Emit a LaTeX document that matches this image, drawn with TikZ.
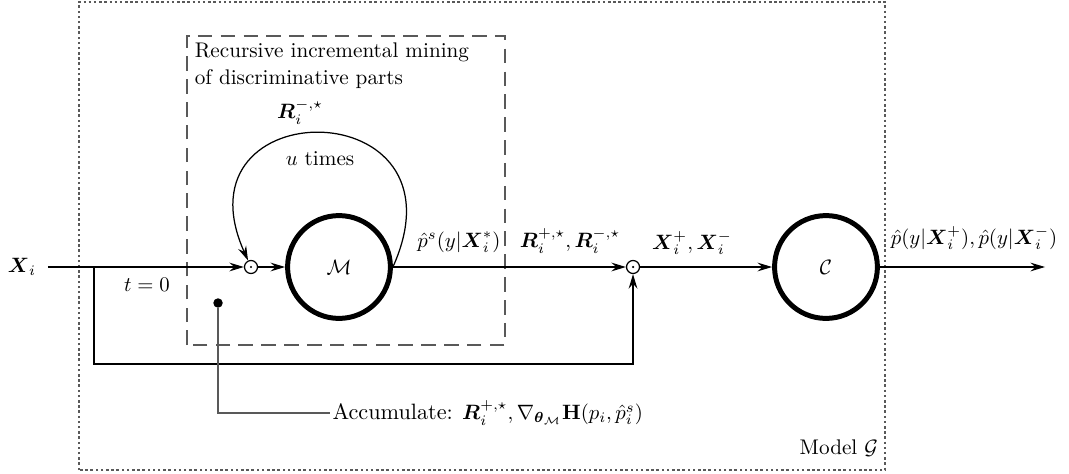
\documentclass[tikz,border=0pt]{standalone}
\usepackage{amsmath, amssymb}
\usetikzlibrary{arrows.meta,positioning}
\tikzstyle{prod} = [circle, draw, semithick, inner sep=0pt, minimum size=0.22cm, path picture={\fill (path picture bounding box.center) circle (0.6pt);}]
\tikzstyle{model} = [circle, draw, line width=2.4pt, minimum size=1.74cm]
\tikzstyle{arrow} = [semithick,->,>={Stealth[length=7pt,width=4.2pt,inset=2.4pt]}]
\tikzstyle{frame} = [gray!70!black, semithick]
\tikzstyle{note} = [font=\fontsize{10.2}{12.8}\selectfont]

\begin{document}
\begin{tikzpicture}
\useasboundingbox (0,-3.486) rectangle (18.088,4.518);

% outer model box and mining box
\draw [frame, dash pattern=on 1.2pt off 1.3pt] (1.337,-3.435) rectangle (14.975,4.484);
\draw [frame, dash pattern=on 7pt off 4pt] (3.164,-1.320) rectangle (8.545,3.909);
\node [note, anchor=north west, align=left, inner sep=2pt] at (3.22,3.87) {Recursive incremental mining\\of discriminative parts};
\node [note, anchor=south east] at (14.98,-3.33) {Model $\mathcal{G}$};

% main chain
\node (xlab) at (0.37,0) {$\boldsymbol{X}_i$};
\coordinate (xin) at (0.812,0);
\node (prod1) [prod] at (4.247,0) {};
\node (mine) [model] at (5.736,0) {$\mathcal{M}$};
\node (prod2) [prod] at (10.711,0) {};
\node (clf) [model] at (13.976,0) {$\mathcal{C}$};
\coordinate (out) at (17.682,0);
\draw [arrow] (xin) -- (prod1);
\draw [arrow] (prod1) -- (mine);
\draw [arrow] (mine) -- (prod2);
\draw [arrow] (prod2) -- (clf);
\draw [arrow] (clf) -- (out);

% recursion loop
\draw [arrow] (mine.east) .. controls +(1.35,3.0) and +(-1.35,3.0) .. (prod1);
\node (rneg) at (5.076,2.623) {$\boldsymbol{R}_i^{-,\star}$};
\node (utimes) [note] at (5.415,1.827) {$u$ times};

% labels on the chain
\node (tzero) at (2.487,-0.305) {$t=0$};
\node (pslab) at (7.766,0.423) {$\hat{p}^s(y|\boldsymbol{X}_i^{*})$};
\node (rlab) at (9.645,0.440) {$\boldsymbol{R}_i^{+,\star}, \boldsymbol{R}_i^{-,\star}$};
\node (xlab2) at (11.709,0.406) {$\boldsymbol{X}_i^{+}, \boldsymbol{X}_i^{-}$};
\node (outlab) at (16.481,0.491) {$\hat{p}(y|\boldsymbol{X}_i^{+}), \hat{p}(y|\boldsymbol{X}_i^{-})$};

% skip connection
\coordinate (split) at (1.591,0);
\coordinate (fb) at (10.711,-1.641);
\draw [arrow] (split) |- (fb) -- (prod2);

% accumulation
\node (acc0) [circle, fill, inner sep=0pt, minimum size=0.16cm] at (3.689,-0.609) {};
\node (acc) [anchor=west, inner sep=1pt] at (5.584,-2.470) {{\fontsize{10.7}{13}\selectfont Accumulate:} $\boldsymbol{R}_i^{+,\star}, \nabla_{\boldsymbol{\theta}_{\mathcal{M}}}\mathbf{H}(p_i, \hat{p}_i^s)$};
\draw [frame] (acc0) |- (acc.west);

\end{tikzpicture}
\end{document}
